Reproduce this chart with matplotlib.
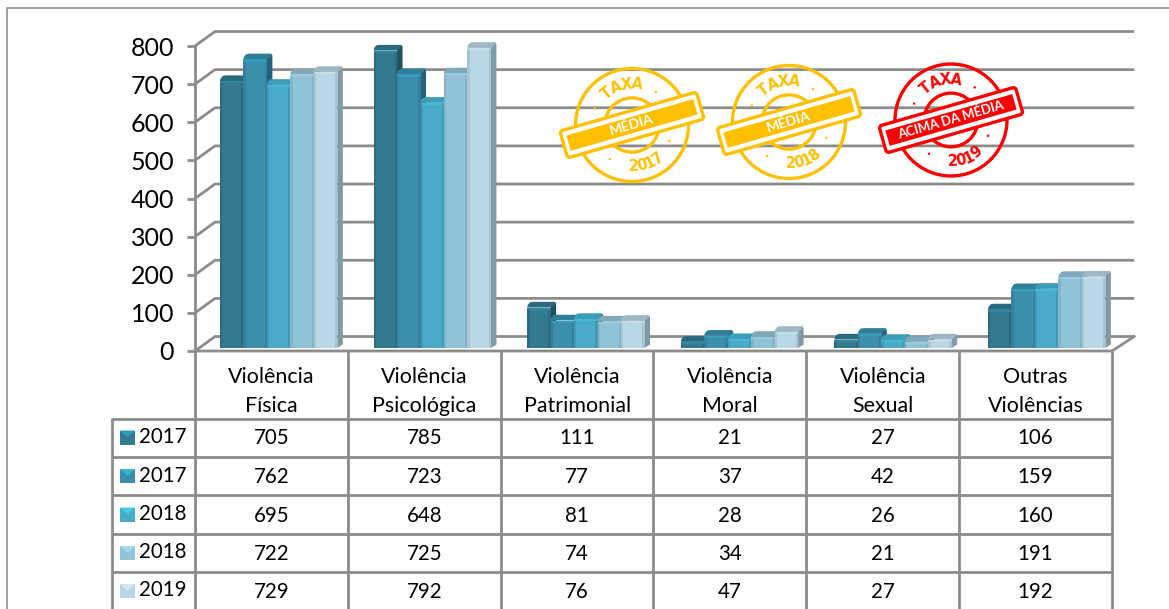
import numpy as np
import matplotlib
matplotlib.use("Agg")
import matplotlib.pyplot as plt
from matplotlib.patches import Circle, Polygon, FancyBboxPatch
from matplotlib.transforms import Affine2D

categories = ["Violência\nFísica", "Violência\nPsicológica", "Violência\nPatrimonial",
              "Violência\nMoral", "Violência\nSexual", "Outras\nViolências"]
series_names = ["2017", "2017", "2018", "2018", "2019"]
s1 = [705, 785, 111, 21, 27, 106]
s2 = [762, 723, 77, 37, 42, 159]
s3 = [695, 648, 81, 28, 26, 160]
s4 = [722, 725, 74, 34, 21, 191]
s5 = [729, 792, 76, 47, 27, 192]
series = [s1, s2, s3, s4, s5]
yticks = [0, 100, 200, 300, 400, 500, 600, 700, 800]
front = ["#33798f", "#3b8fab", "#48abc8", "#90c2d8", "#b9d7e4"]
side = ["#22505f", "#27607a", "#2f7289", "#6b8f9f", "#7f9aa6"]
top = ["#2a6a80", "#2f7f99", "#3c9db9", "#7fa9bb", "#9db8c4"]
lite = ["#2e9cba", "#35b3d2", "#45cbe6", "#a5dbee", "#d6e8ef"]
GRID = "#8c8c8c"
plt.rcParams["font.family"] = ["Lato", "DejaVu Sans"]

W, H = 1169, 609
fig = plt.figure(figsize=(W / 100, H / 100), dpi=100, facecolor="white")

px = fig.add_axes([0, 0, 1, 1], zorder=3)
px.set_xlim(0, W); px.set_ylim(H, 0); px.axis("off"); px.patch.set_alpha(0)

ax = fig.add_axes([195 / W, 1 - 351 / H, 917 / W, 305 / H], zorder=2)
ax.set_xlim(0, 6); ax.set_ylim(0, 800)
ax.patch.set_alpha(0)
for s in ax.spines.values():
    s.set_visible(False)
ax.set_xticks([])
ax.set_yticks(yticks)
ax.tick_params(axis="y", length=6, width=2, color=GRID, labelsize=18, pad=9, labelcolor="black")

DX, DY = 20 / 153, 38
for v in yticks:
    ax.plot([0, DX, 6.145], [v, v + DY, v + DY], color=GRID, lw=2, clip_on=False, zorder=1,
            solid_joinstyle="miter", solid_capstyle="butt")
ax.plot([0, 0], [0, 800], color=GRID, lw=2, clip_on=False, zorder=1)
ax.plot([0, 6, 6.145], [0, 0, DY], color=GRID, lw=2, clip_on=False, zorder=6)

BW = 23.5 / 153
OFF = 25 / 153
STEP = 153.6 / 152.83
dx, dy = 5.5 / 153, 15
B0 = 8
LIFT = 3
for k, vals in enumerate(series):
    for i, v0 in enumerate(vals):
        v = v0 + LIFT
        x0 = i * STEP + OFF + k * BW
        x1 = x0 + BW
        z = 3 + k * 0.1
        ax.add_patch(Polygon([(x1, B0), (x1 + dx, B0 + dy * .6), (x1 + dx, v + dy * .65),
                              (x1 + dx * .8, v + dy * .95), (x1 + dx * .4, v + dy), (x1, v)],
                             closed=True, fc=side[k], ec="none", zorder=z, clip_on=False))
        ax.add_patch(Polygon([(x0, v), (x0 + dx * .1, v + dy * .45), (x0 + dx * .5, v + dy * .9),
                              (x0 + dx, v + dy), (x1 + dx * .5, v + dy), (x1 + dx * .95, v + dy * .8),
                              (x1, v)],
                             closed=True, fc=top[k], ec="none", zorder=z, clip_on=False))
        ax.bar(x0, v - B0, BW, bottom=B0, align="edge", color=front[k], zorder=z + .05, clip_on=False)
        ax.bar(x0, v - B0, BW * .1, bottom=B0, align="edge", color=side[k], alpha=.28, zorder=z + .06, clip_on=False)
        ax.bar(x1 - BW * .1, v - B0, BW * .1, bottom=B0, align="edge", color=side[k], alpha=.28, zorder=z + .06, clip_on=False)
        ax.bar(x0, min(6, v - B0), BW, bottom=v - min(6, v - B0), align="edge", color=lite[k], alpha=.4, zorder=z + .07, clip_on=False)

px.plot([7, 7, W], [H, 8, 8], color="#8f8f8f", lw=1.2)

xs = [195 + 152.83 * i for i in range(7)]
rows = [419, 457, 495, 534, 572]
for x in xs:
    px.plot([x, x], [351, H], color=GRID, lw=2, solid_capstyle="butt")
px.plot([112, 112], [418, H], color=GRID, lw=2, solid_capstyle="butt")
for y in rows:
    px.plot([112, 1113], [y, y], color=GRID, lw=2, solid_capstyle="butt")
LS, TS = 15.4, 14.8
for i, c in enumerate(categories):
    a, b = c.split("\n")
    cx = (xs[i] + xs[i + 1]) / 2
    px.text(cx, 377, a, ha="center", va="center", fontsize=LS)
    px.text(cx, 406.5, b, ha="center", va="center", fontsize=LS)
rowc = [438.5, 477, 515.5, 554, 592]
for k, (name, vals) in enumerate(zip(series_names, series)):
    y = rowc[k]
    ky = y - 1
    px.add_patch(Polygon([(120, ky - 7), (135, ky - 7), (135, ky + 7), (120, ky + 7)], fc=front[k], ec="none"))
    px.add_patch(Polygon([(120, ky - 7), (135, ky - 7), (127.5, ky)], fc=lite[k], ec="none"))
    px.text(139.5, y - 1.5, name, ha="left", va="center", fontsize=TS)
    for i, v in enumerate(vals):
        px.text((xs[i] + xs[i + 1]) / 2, y, str(v), ha="center", va="center", fontsize=TS)


def stamp(cx, cy, r, col, label, year, lsize):
    px.add_patch(Circle((cx, cy), r, fc="none", ec=col, lw=2.4))
    px.add_patch(Circle((cx, cy), r * .48, fc="none", ec=col, lw=2.4))
    rot = Affine2D().rotate_deg_around(cx, cy, -16) + px.transData
    px.add_patch(FancyBboxPatch((cx - 71, cy - 14), 142, 28, boxstyle="round,pad=0,rounding_size=3",
                                fc="white", ec=col, lw=2.4, transform=rot))
    px.add_patch(FancyBboxPatch((cx - 66, cy - 8), 132, 16, boxstyle="square,pad=0",
                                fc=col, ec="none", transform=rot))
    px.text(cx, cy, label, color="white", fontsize=lsize, ha="center", va="center",
            rotation=16, rotation_mode="anchor", weight="bold")
    for t, ang in zip("TAXA", [-38, -23, -8, 7]):
        a = np.radians(ang)
        px.text(cx + r * .72 * np.sin(a), cy - r * .72 * np.cos(a), t, color=col, fontsize=10.5,
                family="DejaVu Sans", weight="bold",
                ha="center", va="center", rotation=-ang, rotation_mode="anchor")
    for t, ang in zip(year, [2, 14, 26, 38]):
        a = np.radians(ang)
        px.text(cx + r * .74 * np.sin(a), cy + r * .74 * np.cos(a), t, color=col, fontsize=10.5,
                family="DejaVu Sans", weight="bold",
                ha="center", va="center", rotation=ang, rotation_mode="anchor")
    for ang in [36, -66, 113, -147]:
        a = np.radians(ang)
        px.add_patch(Circle((cx + r * .72 * np.sin(a), cy - r * .72 * np.cos(a)), 1.2, fc=col, ec="none"))


stamp(632, 125, 56.5, "#ffc000", "MÉDIA", "2017", 10)
stamp(789, 122, 56.5, "#ffc000", "MÉDIA", "2018", 10)
stamp(951, 120, 56, "#ff0000", "ACIMA DA MÉDIA", "2019", 9.4)

fig.savefig("out.png", dpi=100)
